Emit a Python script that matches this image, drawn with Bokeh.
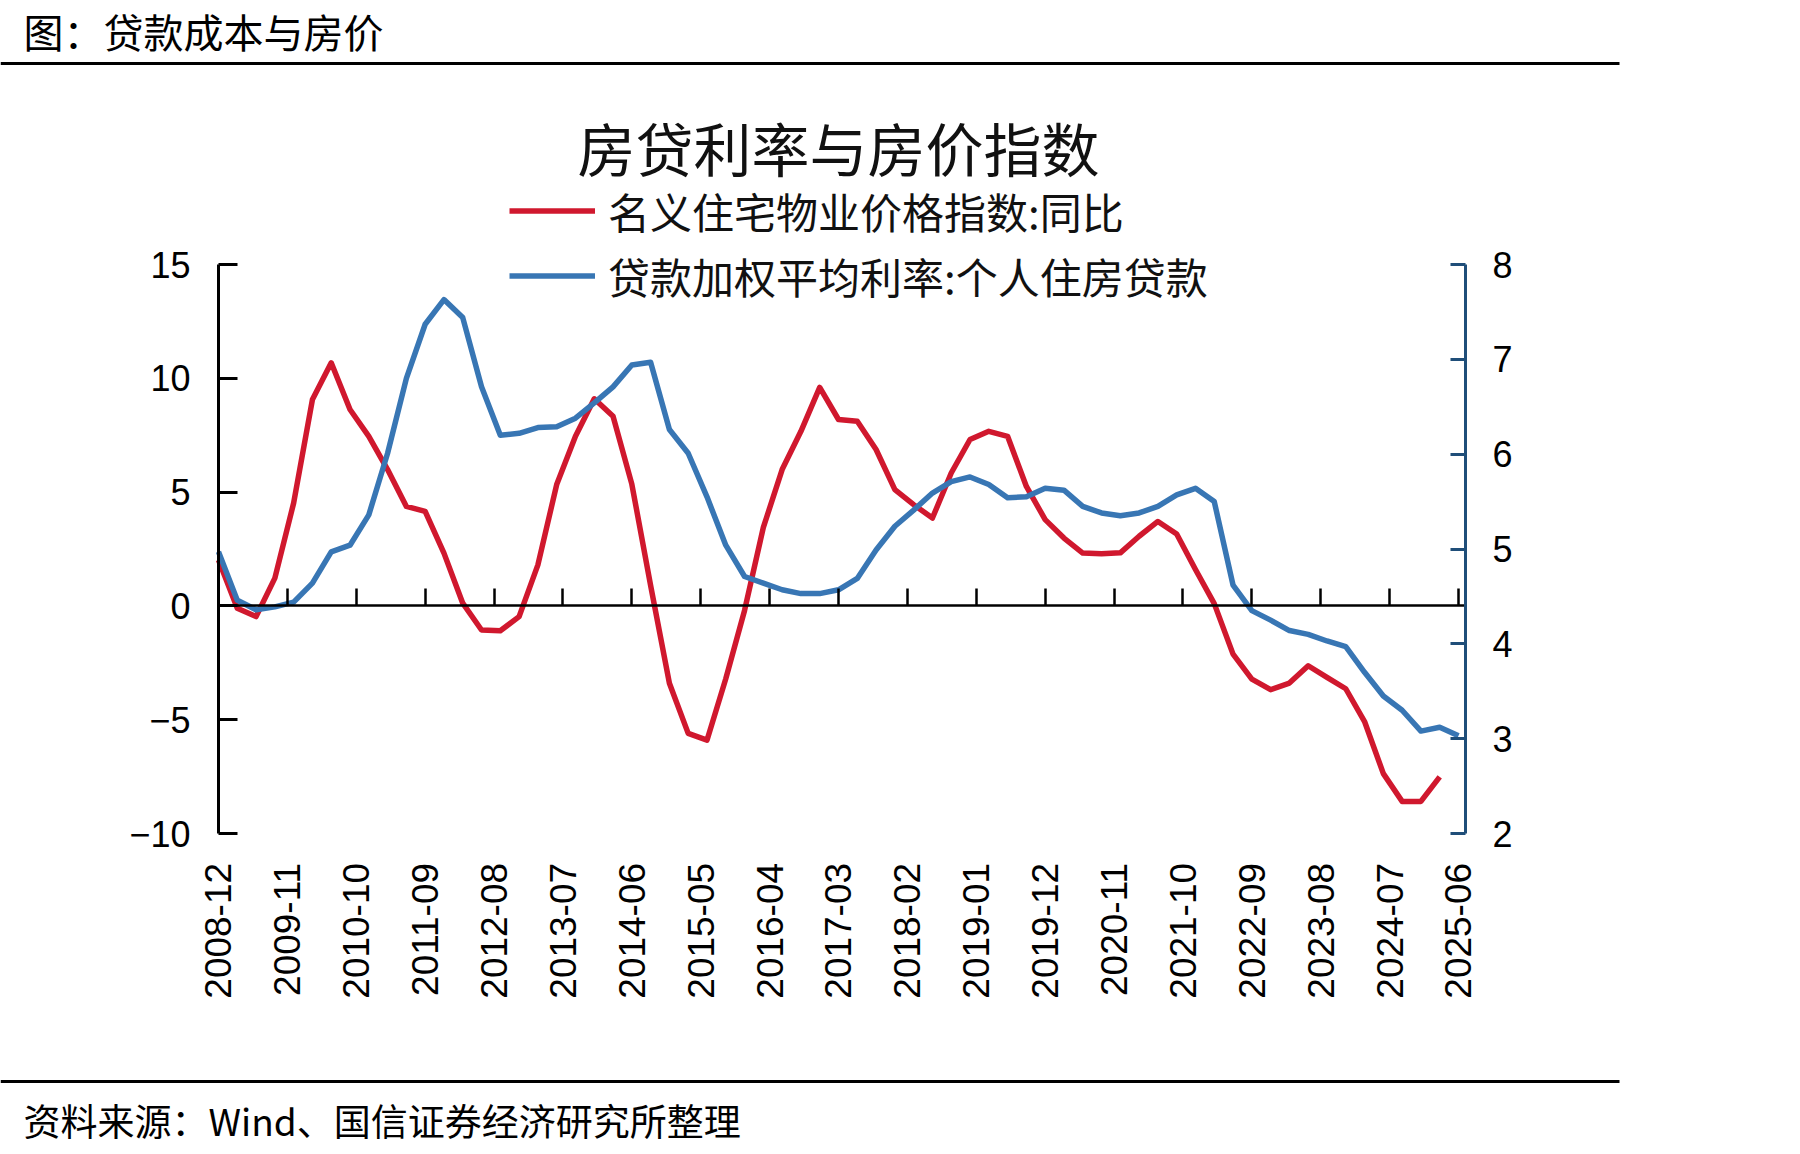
import numpy as np
from bokeh.plotting import figure
from bokeh.models import LinearAxis, Range1d, FixedTicker, Label, Legend, LegendItem
from bokeh.embed import file_html
from bokeh.resources import INLINE

# ---------------- data ----------------
# quarterly observations, 2008-12 ... 2025-06
quarters = [f"{y}-{m:02d}" for y in range(2008, 2026) for m in (3, 6, 9, 12)]
quarters = quarters[quarters.index("2008-12"): quarters.index("2025-06") + 1]

# 名义住宅物业价格指数:同比 (%), 2008-12 ... 2025-03
price_yoy = [
    2.02, -0.10, -0.47, 1.22, 4.52, 9.07, 10.68, 8.63, 7.45, 5.99,
    4.37, 4.15, 2.32, 0.12, -1.06, -1.09, -0.47, 1.80, 5.33, 7.45,
    9.10, 8.33, 5.35, 0.90, -3.40, -5.60, -5.90, -3.20, -0.20, 3.45,
    5.99, 7.67, 9.60, 8.19, 8.11, 6.87, 5.11, 4.45, 3.86, 5.84,
    7.31, 7.67, 7.45, 5.25, 3.79, 2.98, 2.32, 2.29, 2.33, 3.06,
    3.71, 3.16, 1.60, 0.10, -2.12, -3.22, -3.68, -3.39, -2.63, -3.14,
    -3.64, -5.08, -7.37, -8.59, -8.59, -7.51,
]
# 贷款加权平均利率:个人住房贷款 (%), 2008-12 ... 2025-06
loan_rate = [
    4.97, 4.46, 4.36, 4.39, 4.44, 4.64, 4.97, 5.04, 5.36, 6.01,
    6.80, 7.37, 7.63, 7.44, 6.71, 6.20, 6.22, 6.28, 6.29, 6.38,
    6.54, 6.71, 6.94, 6.97, 6.26, 6.01, 5.55, 5.04, 4.71, 4.64,
    4.57, 4.53, 4.53, 4.57, 4.69, 4.99, 5.24, 5.41, 5.59, 5.71,
    5.76, 5.68, 5.54, 5.55, 5.64, 5.62, 5.45, 5.38, 5.35, 5.38,
    5.45, 5.57, 5.64, 5.50, 4.62, 4.35, 4.25, 4.14, 4.10, 4.03,
    3.97, 3.70, 3.45, 3.30, 3.08, 3.12, 3.03,
]

tick_labels = ["2008-12", "2009-11", "2010-10", "2011-09", "2012-08", "2013-07",
               "2014-06", "2015-05", "2016-04", "2017-03", "2018-02", "2019-01",
               "2019-12", "2020-11", "2021-10", "2022-09", "2023-08", "2024-07",
               "2025-06"]
left_ticks = [-10, -5, 0, 5, 10, 15]
right_ticks = [2, 3, 4, 5, 6, 7, 8]


def month_index(s):
    y, m = s.split("-")
    return (int(y) - 2008) * 12 + int(m) - 12


t_quarters = [month_index(q) for q in quarters]
t_price = t_quarters[:len(price_yoy)]
t_rate = t_quarters[:len(loan_rate)]
tick_t = [month_index(s) for s in tick_labels]

# ---------------- layout geometry (pixels) ----------------
W, H = 1800, 1154
PX_T0, PX_TEND = 218, 1458          # x pixel of first / last tick
PX_RIGHT_AXIS = 1465
PY_TOP, PY_BOT = 264, 833           # y pixel of axis top / bottom

ppm = (PX_TEND - PX_T0) / (tick_t[-1] - tick_t[0])
x0 = tick_t[0] - PX_T0 / ppm
x1 = x0 + W / ppm
T_RIGHT = x0 + PX_RIGHT_AXIS / ppm

ppu = (PY_BOT - PY_TOP) / (left_ticks[-1] - left_ticks[0])
y0 = left_ticks[0] - (H - PY_BOT) / ppu
y1 = y0 + H / ppu

ppu2 = (PY_BOT - PY_TOP) / (right_ticks[-1] - right_ticks[0])
r0 = right_ticks[0] - (H - PY_BOT) / ppu2
r1 = r0 + H / ppu2


def X(px):
    return x0 + px / ppm


def Y(py):
    return y0 + (H - py) / ppu


CJK = "Noto Sans CJK SC"
NUM = "Liberation Sans"
RED = "#D0182E"
BLUE = "#3876B4"
NAVY = "#1F4E79"

p = figure(width=W, height=H, output_backend="svg", toolbar_location=None,
           x_range=Range1d(x0, x1), y_range=Range1d(y0, y1),
           x_axis_location=None, y_axis_location=None,
           min_border=0, outline_line_color=None,
           background_fill_color="white", border_fill_color="white")
p.extra_y_ranges = {"rate": Range1d(r0, r1)}
p.grid.grid_line_color = None

# ---------------- axes ----------------
xaxis = LinearAxis(fixed_location=0, bounds=(0, T_RIGHT),
                   ticker=FixedTicker(ticks=tick_t),
                   major_label_overrides={t: s for t, s in zip(tick_t, tick_labels)},
                   major_label_orientation=np.pi / 2,
                   major_label_standoff=(PY_BOT - 606) + 30,
                   major_tick_in=17, major_tick_out=0,
                   minor_tick_in=0, minor_tick_out=0,
                   axis_line_width=2.5, axis_line_color="black",
                   major_tick_line_width=2.5, major_tick_line_color="black",
                   major_label_text_font=NUM, major_label_text_font_size="37px",
                   major_label_text_color="black")
p.add_layout(xaxis, "below")

yaxis = LinearAxis(fixed_location=0, bounds=(left_ticks[0], left_ticks[-1]),
                   ticker=FixedTicker(ticks=left_ticks),
                   major_label_overrides={-10: "\u221210", -5: "\u22125"},
                   major_tick_in=19, major_tick_out=0,
                   minor_tick_in=0, minor_tick_out=0,
                   axis_line_width=3, axis_line_color="black",
                   major_tick_line_width=3, major_tick_line_color="black",
                   major_label_standoff=28,
                   major_label_text_font=NUM, major_label_text_font_size="36px",
                   major_label_text_color="black")
p.add_layout(yaxis, "left")

raxis = LinearAxis(y_range_name="rate", fixed_location=T_RIGHT,
                   bounds=(right_ticks[0], right_ticks[-1]),
                   ticker=FixedTicker(ticks=right_ticks),
                   major_tick_in=15, major_tick_out=0,
                   minor_tick_in=0, minor_tick_out=0,
                   axis_line_width=3, axis_line_color=NAVY,
                   major_tick_line_width=3, major_tick_line_color=NAVY,
                   major_label_standoff=27,
                   major_label_text_font=NUM, major_label_text_font_size="36px",
                   major_label_text_color="black")
p.add_layout(raxis, "right")

# ---------------- series ----------------
r_price = p.line(t_price, price_yoy, line_color=RED, line_width=5.5, line_join="round")
r_rate = p.line(t_rate, loan_rate, y_range_name="rate", line_color=BLUE, line_width=5.5,
                line_join="round")

legend = Legend(items=[LegendItem(label="名义住宅物业价格指数:同比", renderers=[r_price]),
                       LegendItem(label="贷款加权平均利率:个人住房贷款", renderers=[r_rate])],
                location=(509, H - 308), orientation="vertical",
                glyph_width=86, glyph_height=65, label_height=65, spacing=0,
                padding=0, margin=0, label_standoff=13,
                border_line_color=None, background_fill_alpha=0,
                label_text_font=CJK, label_text_font_size="42px",
                label_text_color="#111111")
p.add_layout(legend)

# ---------------- texts & rules ----------------
p.add_layout(Label(x=X(23), y=Y(30), text="图：贷款成本与房价", text_font=CJK,
                   text_font_size="40px", text_color="black",
                   text_align="left", text_baseline="middle"))
p.add_layout(Label(x=X(838), y=Y(146), text="房贷利率与房价指数", text_font=CJK,
                   text_font_size="58px", text_color="#111111",
                   text_align="center", text_baseline="middle"))
p.add_layout(Label(x=X(23), y=Y(1119), text="资料来源：Wind、国信证券经济研究所整理",
                   text_font=CJK, text_font_size="37px", text_color="black",
                   text_align="left", text_baseline="middle"))

p.segment(x0=[X(0), X(0)], y0=[Y(63), Y(1081)], x1=[X(1619), X(1619)], y1=[Y(63), Y(1081)],
          line_color="black", line_width=3)

open("out.html", "w").write(file_html(p, INLINE))
